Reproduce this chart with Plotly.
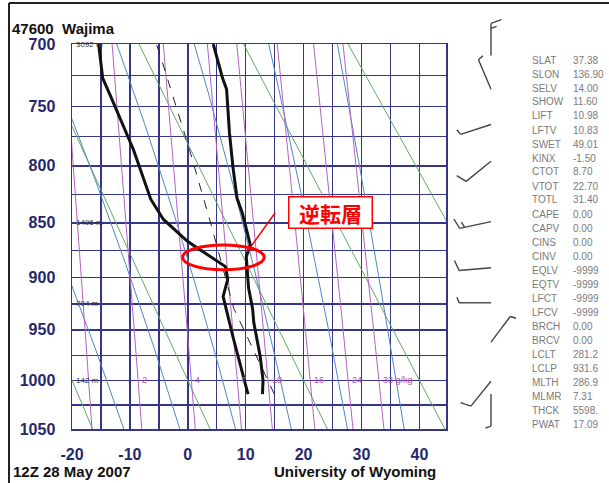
import numpy as np
import plotly.graph_objects as go

KAPPA = 0.286
W, H = 609, 483
# plot box in pixels (layout)
BX0, BX1, BY0, BY1 = 72, 446, 44, 429

# ---------------- data ----------------
grid_pressures = [700, 725, 750, 775, 800, 825, 850, 875, 900, 925, 950, 975, 1000, 1025, 1050]
label_pressures = [700, 750, 800, 850, 900, 950, 1000, 1050]
grid_temps = [-20, -15, -10, -5, 0, 5, 10, 15, 20, 25, 30, 35, 40]
label_temps = [-20, -10, 0, 10, 20, 30, 40]

temp_p = [700, 727, 736, 772, 801, 828, 841, 870, 881, 893, 910, 930, 943, 976, 1000, 1014]
temp_c = [4.4, 6.0, 6.7, 7.2, 7.8, 8.5, 9.4, 10.8, 10.1, 10.3, 10.5, 11.2, 11.4, 12.5, 13.0, 12.9]
dewp_p = [700, 727, 742, 761, 786, 829, 847, 867, 881, 890, 902, 918, 959, 996, 1014]
dewp_c = [-15.4, -14.7, -13.3, -11.6, -9.4, -6.4, -4.2, 0.0, 3.9, 6.5, 6.9, 6.1, 7.9, 9.6, 10.4]

height_p = [700, 850, 925, 1000]
height_txt = ["3092 m", "1496 m", "794 m", "142 m"]

dry_theta_k = [253.15, 273.15, 293.15, 313.15, 333.15]
moist_t1000 = [-14, -4, 6, 16, 26, 36]
mix_ratio = [1, 2, 4, 7, 10, 16, 24, 33]
mix_label = ["1", "2", "4", "7", "10", "16", "24", "33 g/kg"]

lcl_t_k = 281.2
lcl_p = 931.6
sfc_p = 1014

wind_p = [709, 736, 765, 796, 849, 891, 924, 962, 1001, 1014]
wind_dir = [360, 337, 252, 231, 258, 265, 270, 37, 219, 180]
wind_kt = [15, 5, 5, 10, 15, 10, 5, 5, 10, 5]

stat_names = ["SLAT", "SLON", "SELV", "SHOW", "LIFT", "LFTV", "SWET", "KINX", "CTOT",
              "VTOT", "TOTL", "CAPE", "CAPV", "CINS", "CINV", "EQLV", "EQTV", "LFCT",
              "LFCV", "BRCH", "BRCV", "LCLT", "LCLP", "MLTH", "MLMR", "THCK", "PWAT"]
stat_vals = ["37.38", "136.90", "14.00", "11.60", "10.98", "10.83", "49.01", "-1.50", "8.70",
             "22.70", "31.40", "0.00", "0.00", "0.00", "0.00", "-9999", "-9999", "-9999",
             "-9999", "0.00", "0.00", "281.2", "931.6", "286.9", "7.31", "5598.", "17.09"]

title_left = "47600  Wajima"
foot_left = "12Z 28 May 2007"
foot_right = "University of Wyoming"
note_text = "逆転層"


# ---------------- helpers ----------------
def Y(p):
    return np.asarray(p, dtype=float) ** KAPPA


def es(tc):
    return 6.112 * np.exp(17.67 * tc / (tc + 243.5))


def moist_rate(p, tk):
    tc = tk - 273.15
    e = es(tc)
    r = 0.622 * e / (p - e)
    lv, rd, cp = 2.501e6, 287.04, 1005.7
    num = (rd * tk + lv * r) / p
    den = cp + (lv * lv * r * 0.622) / (rd * tk * tk)
    return num / den


def integrate_moist(t0c, p0, p1, dp=2.0):
    ps, ts = [p0], [t0c + 273.15]
    h = -dp if p1 < p0 else dp
    p, t = p0, t0c + 273.15
    while (p1 < p0 and p > p1) or (p1 > p0 and p < p1):
        k1 = moist_rate(p, t)
        k2 = moist_rate(p + h / 2, t + h / 2 * k1)
        k3 = moist_rate(p + h / 2, t + h / 2 * k2)
        k4 = moist_rate(p + h, t + h * k3)
        t = t + h / 6 * (k1 + 2 * k2 + 2 * k3 + k4)
        p = p + h
        ps.append(p)
        ts.append(t)
    return np.array(ps), np.array(ts) - 273.15


fig = go.Figure()

# dry adiabats
pp = np.linspace(690, 1060, 80)
for th in dry_theta_k:
    t = th * (pp / 1000.0) ** KAPPA - 273.15
    fig.add_trace(go.Scatter(x=t, y=Y(pp), mode="lines",
                             line=dict(color="#62aa62", width=1), hoverinfo="skip", showlegend=False))

# moist adiabats
for t0 in moist_t1000:
    pu, tu = integrate_moist(t0, 1000.0, 690.0)
    pd, td = integrate_moist(t0, 1000.0, 1060.0)
    p_all = np.concatenate([pd[::-1], pu[1:]])
    t_all = np.concatenate([td[::-1], tu[1:]])
    fig.add_trace(go.Scatter(x=t_all, y=Y(p_all), mode="lines",
                             line=dict(color="#4f86c2", width=1), hoverinfo="skip", showlegend=False))

# mixing ratio lines
for w in mix_ratio:
    e = (w / 1000.0) * pp / (0.622 + w / 1000.0)
    lg = np.log(e / 6.112)
    t = 243.5 * lg / (17.67 - lg)
    fig.add_trace(go.Scatter(x=t, y=Y(pp), mode="lines",
                             line=dict(color="#b463c0", width=1), hoverinfo="skip", showlegend=False))

# parcel path
theta_p = lcl_t_k * (1000.0 / lcl_p) ** KAPPA
p_dry = np.linspace(lcl_p, sfc_p, 20)
t_dry = theta_p * (p_dry / 1000.0) ** KAPPA - 273.15
p_m, t_m = integrate_moist(lcl_t_k - 273.15, lcl_p, 690.0)
fig.add_trace(go.Scatter(x=np.concatenate([t_dry[::-1], t_m[1:]]),
                         y=Y(np.concatenate([p_dry[::-1], p_m[1:]])), mode="lines",
                         line=dict(color="#222222", width=1, dash="dash"),
                         hoverinfo="skip", showlegend=False))

# sounding
fig.add_trace(go.Scatter(x=dewp_c, y=Y(dewp_p), mode="lines",
                         line=dict(color="#111111", width=3), showlegend=False))
fig.add_trace(go.Scatter(x=temp_c, y=Y(temp_p), mode="lines",
                         line=dict(color="#111111", width=3), showlegend=False))

# wind barbs: a side panel whose x axis is in pixel offsets from the barb column
# and whose y axis uses the same pressure scale as the main diagram
BARB_X = 491
PX0, PX1 = 448, 528
PY0, PY1 = 4, 470
px_per_y = (BY1 - BY0) / (float(Y(1050)) - float(Y(700)))
y2_top = float(Y(700)) - (BY0 - PY0) / px_per_y
y2_bot = float(Y(700)) + (PY1 - BY0) / px_per_y
bxs, bys = [], []
staff_len, full_len, half_len, spacing = 32.0, 11.0, 6.0, 5.0
for p, d, s in zip(wind_p, wind_dir, wind_kt):
    yb = float(Y(p))
    a = np.radians(d)
    ux, uy = np.sin(a), -np.cos(a)          # screen px direction (down = +)
    fa = np.radians(d + 70)
    fx, fy = np.sin(fa), -np.cos(fa)
    tipx, tipy = staff_len * ux, staff_len * uy
    bxs += [0, tipx, None]
    bys += [yb, yb + tipy / px_per_y, None]
    n_full, n_half = int(s // 10), int((s % 10) // 5)
    pos = 0.0
    for k in range(n_full + n_half):
        ln = full_len if k < n_full else half_len
        sx, sy = tipx - pos * ux, tipy - pos * uy
        ex, ey = sx + ln * fx, sy + ln * fy
        bxs += [sx, ex, None]
        bys += [yb + sy / px_per_y, yb + ey / px_per_y, None]
        pos += spacing
fig.add_trace(go.Scatter(x=bxs, y=bys, xaxis="x2", yaxis="y2", mode="lines",
                         line=dict(color="#444444", width=1.4), hoverinfo="skip", showlegend=False))

# ---------------- annotations ----------------
ann = []
ann.append(dict(text="<b>" + title_left + "</b>", x=10 / W, y=1 - 29 / H, xref="paper", yref="paper",
                xanchor="left", yanchor="middle", showarrow=False,
                font=dict(size=15, color="#111111", family="Liberation Sans")))
ann.append(dict(text="<b>" + foot_left + "</b>", x=11 / W, y=1 - 471 / H, xref="paper", yref="paper",
                xanchor="left", yanchor="middle", showarrow=False,
                font=dict(size=15, color="#111111", family="Liberation Sans")))
ann.append(dict(text="<b>" + foot_right + "</b>", x=438 / W, y=1 - 471 / H, xref="paper", yref="paper",
                xanchor="right", yanchor="middle", showarrow=False,
                font=dict(size=15, color="#111111", family="Liberation Sans")))
for p, t in zip(height_p, height_txt):
    ann.append(dict(text=t, x=-19.7, y=float(Y(p)), xref="x", yref="y", xanchor="left",
                    yanchor="middle", showarrow=False,
                    font=dict(size=8, color="#333333", family="Liberation Sans")))
for w, lab in zip(mix_ratio, mix_label):
    if w == 1:
        continue  # hidden under the 142 m height label in the reference
    e = (w / 1000.0) * 1000.0 / (0.622 + w / 1000.0)
    lg = np.log(e / 6.112)
    t = 243.5 * lg / (17.67 - lg)
    ann.append(dict(text=lab, x=float(t) + 0.3, y=float(Y(1000)), xref="x", yref="y",
                    xanchor="left", yanchor="middle", showarrow=False,
                    font=dict(size=9, color="#b050b0", family="Liberation Sans")))
for i, (nm, v) in enumerate(zip(stat_names, stat_vals)):
    yy = 1 - (60 + i * 14.0) / H
    ann.append(dict(text=nm, x=530 / W, y=yy, xref="paper", yref="paper", xanchor="left",
                    yanchor="middle", showarrow=False,
                    font=dict(size=10, color="#7a7a7a", family="Liberation Sans")))
    ann.append(dict(text=v, x=571 / W, y=yy, xref="paper", yref="paper", xanchor="left",
                    yanchor="middle", showarrow=False,
                    font=dict(size=10, color="#7a7a7a", family="Liberation Sans")))
ann.append(dict(text="<b>" + note_text + "</b>", x=330 / W, y=1 - 212.5 / H, xref="paper", yref="paper",
                xanchor="center", yanchor="middle", showarrow=False, width=80, height=28,
                bgcolor="white", bordercolor="#ff0000", borderwidth=1.5, borderpad=1,
                font=dict(size=21, color="#ff0000", family="Noto Sans CJK JP")))

shapes = [
    dict(type="circle", xref="x", yref="y", x0=-0.9, x1=13.2, y0=float(Y(870)), y1=float(Y(893)),
         line=dict(color="#ff0000", width=3)),
    dict(type="line", xref="x", yref="y", x0=10.3, y0=float(Y(876)), x1=15.1, y1=float(Y(841)),
         line=dict(color="#ff0000", width=1.5)),
    dict(type="line", xref="paper", yref="paper", x0=9 / W, x1=1, y0=1 - 3 / H, y1=1 - 3 / H,
         line=dict(color="#222222", width=2)),
    dict(type="line", xref="paper", yref="paper", x0=9 / W, x1=9 / W, y0=0, y1=1 - 3 / H,
         line=dict(color="#222222", width=2)),
]

gridc = "#35358a"
y_range = [float(Y(1050)), float(Y(700))]
fig.update_layout(
    template="none",
    width=W, height=H, autosize=False,
    margin=dict(l=0, r=0, t=0, b=0, pad=0, autoexpand=False),
    paper_bgcolor="white", plot_bgcolor="rgba(0,0,0,0)",
    showlegend=False,
    xaxis=dict(domain=[BX0 / W, BX1 / W], range=[-20, 44.6], tickvals=grid_temps,
               ticktext=["<b>%d</b>" % t if t in label_temps else "" for t in grid_temps],
               showgrid=True, gridcolor=gridc, gridwidth=1.5, zeroline=False,
               showline=True, linecolor=gridc, linewidth=1.5, mirror=True,
               ticks="outside", ticklen=10, tickcolor="rgba(0,0,0,0)", automargin=False,
               tickfont=dict(size=16, color="#27276e", family="Liberation Sans"),
               fixedrange=True),
    yaxis=dict(domain=[1 - BY1 / H, 1 - BY0 / H], range=y_range,
               tickvals=[float(v) for v in Y(grid_pressures)],
               ticktext=["<b>%d</b>" % p if p in label_pressures else "" for p in grid_pressures],
               showgrid=True, gridcolor=gridc, gridwidth=1.5, zeroline=False,
               showline=True, linecolor=gridc, linewidth=1.5, mirror=True,
               ticks="outside", ticklen=12, tickcolor="rgba(0,0,0,0)", automargin=False,
               tickfont=dict(size=16, color="#27276e", family="Liberation Sans"),
               fixedrange=True),
    xaxis2=dict(domain=[PX0 / W, PX1 / W], range=[PX0 - BARB_X, PX1 - BARB_X], anchor="y2",
                visible=False, showgrid=False, zeroline=False, fixedrange=True, automargin=False),
    yaxis2=dict(domain=[1 - PY1 / H, 1 - PY0 / H], range=[y2_bot, y2_top], anchor="x2",
                visible=False, showgrid=False, zeroline=False, fixedrange=True, automargin=False),
    annotations=ann,
    shapes=shapes,
)

fig.write_html("out.html", config={"displayModeBar": False, "staticPlot": True},
               post_script="document.body.style.margin='0px';document.body.style.overflow='hidden';")
